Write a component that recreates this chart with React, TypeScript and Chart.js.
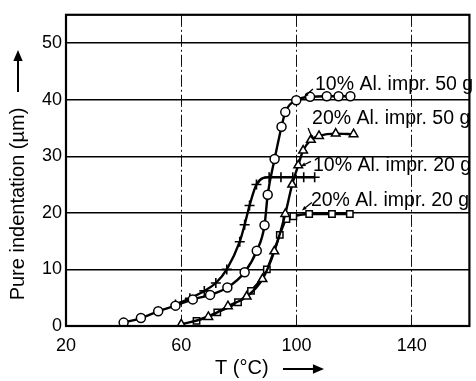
import { useEffect, useRef } from 'react';
import { Chart, registerables } from 'chart.js';
Chart.register(...registerables);

// ---- data ----
const xTicks = [20, 60, 100, 140];
const yTicks = [0, 10, 20, 30, 40, 50];

const circT = [40, 46, 52, 58, 64, 70, 76, 82, 86.2, 88.9, 90, 92.4, 94.8, 96.1, 99.9, 104.7, 110.5, 114.6, 118.7];
const circV = [0.6, 1.4, 2.6, 3.6, 4.7, 5.5, 6.8, 9.5, 13.3, 17.8, 23.2, 29.5, 35.2, 37.8, 39.9, 40.5, 40.6, 40.6, 40.6];

const triT = [60, 69.4, 76.2, 82.7, 88.2, 92.3, 96.1, 98.5, 100.6, 102.3, 105, 107.8, 113.6, 119.8];
const triV = [0.3, 1.6, 3.5, 5.2, 8.3, 13.2, 19.8, 25, 28.4, 31, 32.9, 33.6, 34, 33.9];

const plusT = [58, 63, 68, 72, 75.8, 80.3, 82, 83.7, 86.1, 90.5, 94.6, 98.7, 102.5, 106.3];
const plusV = [3.8, 4.9, 6.2, 7.6, 10, 14.9, 17.9, 21.3, 25, 26.3, 26.3, 26.3, 26.3, 26.3];

const sqT = [65.3, 72.5, 79.7, 84.2, 89.7, 94.2, 96.5, 98.9, 104.4, 112.3, 118.5];
const sqV = [0.9, 2.4, 4.2, 6.2, 10, 16.1, 18.9, 19.4, 19.8, 19.8, 19.8];

const seriesLabels = ['10% Al. impr. 50 g', '20% Al. impr. 50 g', '10% Al. impr. 20 g', '20% Al. impr. 20 g'];
const xTitle = 'T (°C)';
const yTitle = 'Pure indentation (µm)';

// annotation placement (data coords) and leader offsets (px)
const labelX = [106.4, 105.4, 105.7, 105.0];
const labelY = [42.6, 36.6, 28.4, 22.2];
const leaders = [
  [-2, 4, -11, 12],
  [-4, 9, 1, 21],
  [-2, -4, -12, 1],
  [1, 2, -9, 10],
];

const FONT = "'Liberation Sans', Arial, sans-serif";

function pts(t: number[], v: number[]) {
  return t.map((x, i) => ({ x, y: v[i] }));
}

function arrow(ctx: CanvasRenderingContext2D, x1: number, y1: number, x2: number, y2: number, head: number) {
  const ang = Math.atan2(y2 - y1, x2 - x1);
  ctx.beginPath();
  ctx.moveTo(x1, y1);
  ctx.lineTo(x2 - Math.cos(ang) * head * 0.6, y2 - Math.sin(ang) * head * 0.6);
  ctx.stroke();
  ctx.beginPath();
  ctx.moveTo(x2, y2);
  ctx.lineTo(x2 - Math.cos(ang - 0.4) * head, y2 - Math.sin(ang - 0.4) * head);
  ctx.lineTo(x2 - Math.cos(ang + 0.4) * head, y2 - Math.sin(ang + 0.4) * head);
  ctx.closePath();
  ctx.fill();
}

const decor = {
  id: 'decor',
  afterDatasetsDraw(chart: any) {
    const { ctx, chartArea: a, scales } = chart;
    ctx.save();
    ctx.strokeStyle = '#000';
    ctx.fillStyle = '#000';
    ctx.lineWidth = 2.2;
    ctx.strokeRect(a.left, a.top, a.right - a.left, a.bottom - a.top);

    // labels
    ctx.font = `19.5px ${FONT}`;
    ctx.textAlign = 'left';
    ctx.textBaseline = 'middle';
    seriesLabels.forEach((s, i) => {
      const px = scales.x.getPixelForValue(labelX[i]);
      const py = scales.y.getPixelForValue(labelY[i]);
      ctx.fillText(s, px, py);
      const l = leaders[i];
      ctx.lineWidth = 1.3;
      arrow(ctx, px + l[0], py + l[1], px + l[2], py + l[3], 5);
    });

    // x title
    ctx.font = `20px ${FONT}`;
    ctx.textAlign = 'left';
    ctx.fillText(xTitle, 215, 368);
    ctx.lineWidth = 2;
    arrow(ctx, 283, 369, 324, 369, 12);

    // y title
    ctx.save();
    ctx.translate(18, 204);
    ctx.rotate(-Math.PI / 2);
    ctx.textAlign = 'center';
    ctx.fillText(yTitle, 0, 0);
    ctx.restore();
    ctx.lineWidth = 2;
    arrow(ctx, 18, 92, 18, 50, 12);
    ctx.restore();
  },
};

export default function App() {
  const ref = useRef<HTMLCanvasElement>(null);
  useEffect(() => {
    if (!ref.current) return;
    const common = {
      borderColor: '#000',
      borderWidth: 2.4,
      pointBackgroundColor: '#fff',
      pointBorderColor: '#000',
      pointBorderWidth: 1.5,
      pointRadius: 4.5,
      cubicInterpolationMode: 'monotone' as const,
      fill: false,
    };
    const chart = new Chart(ref.current, {
      type: 'line',
      data: {
        datasets: [
          { ...common, label: seriesLabels[0], data: pts(circT, circV), pointStyle: 'circle' },
          { ...common, label: seriesLabels[1], data: pts(triT, triV), pointStyle: 'triangle', pointRadius: 5 },
          { ...common, label: seriesLabels[2], data: pts(plusT, plusV), pointStyle: 'cross', pointRadius: 5, pointBorderWidth: 1.6 },
          { ...common, label: seriesLabels[3], data: pts(sqT, sqV), pointStyle: 'rect', pointRadius: 4.5 },
        ],
      },
      options: {
        animation: false,
        responsive: false,
        layout: { padding: { top: 8, right: 1, left: 0, bottom: 0 } },
        plugins: { legend: { display: false }, tooltip: { enabled: false } },
        scales: {
          x: {
            type: 'linear',
            min: 20,
            max: 160,
            afterBuildTicks: (s: any) => { s.ticks = xTicks.map((v) => ({ value: v })); },
            afterFit: (s: any) => { s.height = 55; },
            ticks: { color: '#000', font: { size: 18, family: FONT }, padding: 9, maxRotation: 0 },
            grid: { color: '#111', lineWidth: 1, drawTicks: false },
            border: { display: false, dash: [12, 3, 2, 3] },
          },
          y: {
            type: 'linear',
            min: 0,
            max: 55,
            afterBuildTicks: (s: any) => { s.ticks = yTicks.map((v) => ({ value: v })); },
            afterFit: (s: any) => { s.width = 66; },
            ticks: { color: '#000', font: { size: 18, family: FONT }, padding: 4 },
            grid: { color: '#000', lineWidth: 1.4, drawTicks: false },
            border: { display: false },
          },
        },
      },
      plugins: [decor],
    });
    return () => chart.destroy();
  }, []);
  return (
    <div style={{ position: 'absolute', left: 0, top: 0, width: 476, height: 381, background: '#fff' }}>
      <canvas ref={ref} width={476} height={381} />
    </div>
  );
}
